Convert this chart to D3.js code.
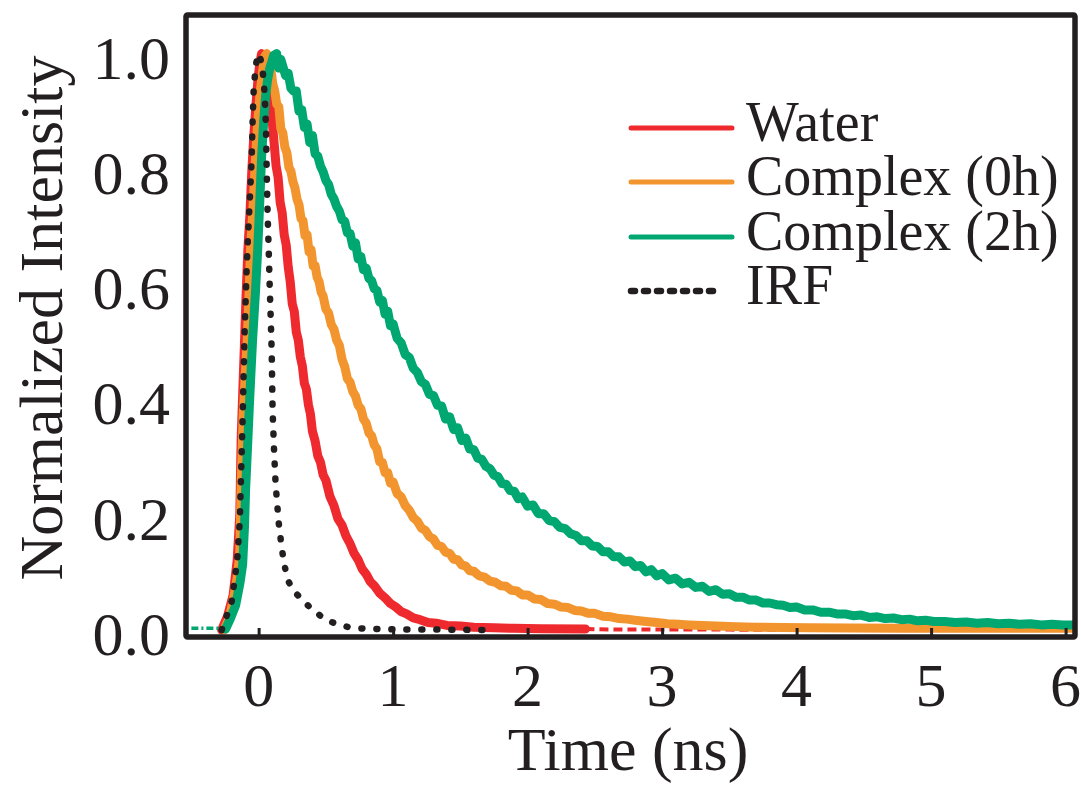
<!DOCTYPE html>
<html><head><meta charset="utf-8">
<script src="https://cdn.jsdelivr.net/npm/d3@7"></script>
<style>body{margin:0;background:#fff}svg{display:block}</style>
</head><body><svg id="c" width="1081" height="785"></svg>
<script>
// ---- data ----
const xTicks = [0, 1, 2, 3, 4, 5, 6];
const yTicks = [0.0, 0.2, 0.4, 0.6, 0.8, 1.0];
const seriesNames = ["Water", "Complex (0h)", "Complex (2h)", "IRF"];
const xTitle = "Time (ns)";
const yTitle = "Normalized Intensity";

const water = [[-0.275,0],[-0.23,0.025],[-0.19,0.06],[-0.16,0.12],[-0.14,0.2],[-0.13,0.33],[-0.12,0.40],[-0.105,0.50],[-0.095,0.57],[-0.08,0.66],[-0.065,0.72],[-0.05,0.80],[-0.035,0.86],[-0.02,0.91],[-0.005,0.955],[0.01,0.985],[0.022,1.0],[0.04,0.985],[0.055,0.978],[0.07,0.945],[0.085,0.925],[0.10,0.885],[0.115,0.845],[0.13,0.805],[0.145,0.785],[0.16,0.742],[0.175,0.724],[0.19,0.686],[0.205,0.668],[0.22,0.63],[0.235,0.604],[0.25,0.566],[0.265,0.553],[0.28,0.517],[0.295,0.503],[0.31,0.474],[0.325,0.458],[0.34,0.428],[0.355,0.418],[0.37,0.391],[0.385,0.375],[0.40,0.345],[0.42,0.328],[0.44,0.302],[0.46,0.291],[0.48,0.269],[0.50,0.26],[0.53,0.232],[0.56,0.216],[0.59,0.193],[0.62,0.182],[0.65,0.163],[0.68,0.15],[0.71,0.133],[0.74,0.122],[0.77,0.106],[0.80,0.097],[0.83,0.084],[0.86,0.077],[0.90,0.064],[0.94,0.056],[0.98,0.046],[1.02,0.04],[1.06,0.032],[1.10,0.028],[1.15,0.021],[1.20,0.018],[1.26,0.013],[1.32,0.012],[1.40,0.008],[1.50,0.007],[1.60,0.005],[1.75,0.004],[1.90,0.003],[2.10,0.0025],[2.43,0.002],[2.6,0.001],[3.0,0.001],[3.5,0.0008],[4.0,0.0005],[4.6,0.0005]];

const complex0h = [[-0.26,0],[-0.22,0.02],[-0.19,0.05],[-0.16,0.09],[-0.14,0.13],[-0.13,0.25],[-0.115,0.37],[-0.10,0.44],[-0.085,0.50],[-0.07,0.59],[-0.06,0.66],[-0.04,0.74],[-0.025,0.81],[-0.01,0.87],[0.01,0.93],[0.03,0.97],[0.045,0.995],[0.06,1.0],[0.075,0.985],[0.09,0.975],[0.105,0.948],[0.12,0.935],[0.135,0.912],[0.15,0.908],[0.165,0.87],[0.18,0.862],[0.195,0.838],[0.21,0.828],[0.225,0.803],[0.24,0.796],[0.255,0.778],[0.27,0.767],[0.285,0.748],[0.30,0.738],[0.315,0.714],[0.33,0.71],[0.345,0.684],[0.36,0.686],[0.375,0.656],[0.39,0.66],[0.405,0.632],[0.42,0.632],[0.435,0.612],[0.45,0.604],[0.465,0.586],[0.48,0.579],[0.50,0.557],[0.52,0.55],[0.54,0.53],[0.56,0.522],[0.58,0.503],[0.60,0.494],[0.62,0.47],[0.64,0.457],[0.66,0.436],[0.68,0.43],[0.70,0.414],[0.72,0.406],[0.74,0.39],[0.76,0.384],[0.78,0.366],[0.80,0.359],[0.82,0.342],[0.84,0.337],[0.86,0.321],[0.88,0.314],[0.90,0.292],[0.92,0.291],[0.94,0.273],[0.96,0.273],[0.98,0.255],[1.00,0.257],[1.03,0.237],[1.06,0.231],[1.09,0.216],[1.12,0.208],[1.15,0.195],[1.18,0.189],[1.21,0.177],[1.24,0.173],[1.27,0.162],[1.30,0.158],[1.33,0.147],[1.36,0.145],[1.39,0.135],[1.42,0.133],[1.45,0.123],[1.48,0.122],[1.51,0.113],[1.54,0.111],[1.57,0.103],[1.60,0.102],[1.64,0.094],[1.68,0.092],[1.72,0.085],[1.76,0.083],[1.80,0.077],[1.84,0.076],[1.88,0.069],[1.92,0.068],[1.96,0.061],[2.00,0.061],[2.05,0.054],[2.10,0.053],[2.15,0.046],[2.20,0.045],[2.25,0.04],[2.30,0.039],[2.35,0.034],[2.40,0.033],[2.45,0.029],[2.50,0.029],[2.56,0.024],[2.62,0.023],[2.68,0.02],[2.74,0.019],[2.80,0.017],[2.88,0.015],[2.96,0.013],[3.04,0.011],[3.12,0.010],[3.20,0.009],[3.30,0.008],[3.40,0.007],[3.55,0.006],[3.70,0.005],[3.90,0.0045],[4.10,0.004],[4.40,0.0035],[4.80,0.003],[5.20,0.003],[5.60,0.003],[6.07,0.003]];

const complex2h = [[-0.50,0.003],[-0.40,0.003],[-0.30,0.003],[-0.245,0.002],[-0.21,0.02],[-0.171,0.043],[-0.14,0.08],[-0.119,0.113],[-0.105,0.18],[-0.097,0.243],[-0.08,0.33],[-0.067,0.399],[-0.045,0.503],[-0.025,0.58],[-0.007,0.659],[0.008,0.74],[0.022,0.82],[0.037,0.88],[0.052,0.927],[0.067,0.955],[0.082,0.974],[0.097,0.985],[0.112,0.997],[0.134,1.0],[0.15,0.975],[0.165,0.99],[0.18,0.978],[0.20,0.962],[0.22,0.966],[0.24,0.94],[0.26,0.935],[0.28,0.935],[0.30,0.9],[0.32,0.903],[0.34,0.872],[0.36,0.878],[0.38,0.846],[0.40,0.858],[0.42,0.826],[0.44,0.822],[0.46,0.805],[0.48,0.795],[0.50,0.78],[0.52,0.773],[0.54,0.756],[0.56,0.748],[0.58,0.735],[0.60,0.727],[0.62,0.712],[0.64,0.709],[0.66,0.689],[0.68,0.688],[0.70,0.666],[0.72,0.672],[0.74,0.644],[0.76,0.648],[0.78,0.625],[0.80,0.628],[0.82,0.61],[0.84,0.606],[0.86,0.592],[0.88,0.589],[0.90,0.569],[0.92,0.572],[0.94,0.548],[0.96,0.553],[0.98,0.528],[1.00,0.531],[1.03,0.506],[1.06,0.498],[1.09,0.478],[1.12,0.473],[1.15,0.454],[1.18,0.447],[1.21,0.431],[1.24,0.426],[1.27,0.409],[1.30,0.407],[1.33,0.39],[1.36,0.389],[1.39,0.366],[1.42,0.37],[1.45,0.348],[1.48,0.351],[1.51,0.329],[1.54,0.333],[1.57,0.314],[1.60,0.313],[1.63,0.298],[1.66,0.296],[1.69,0.284],[1.72,0.28],[1.75,0.269],[1.78,0.266],[1.81,0.254],[1.84,0.253],[1.87,0.242],[1.90,0.241],[1.93,0.228],[1.96,0.231],[2.00,0.215],[2.04,0.217],[2.08,0.202],[2.12,0.202],[2.16,0.19],[2.20,0.188],[2.24,0.178],[2.28,0.176],[2.32,0.167],[2.36,0.164],[2.40,0.155],[2.44,0.155],[2.48,0.146],[2.52,0.145],[2.56,0.136],[2.60,0.136],[2.64,0.127],[2.68,0.127],[2.72,0.118],[2.76,0.12],[2.80,0.11],[2.84,0.112],[2.88,0.101],[2.92,0.105],[2.96,0.094],[3.00,0.098],[3.05,0.087],[3.10,0.09],[3.15,0.08],[3.20,0.083],[3.25,0.074],[3.30,0.076],[3.35,0.067],[3.40,0.07],[3.45,0.062],[3.50,0.063],[3.55,0.057],[3.60,0.057],[3.65,0.052],[3.70,0.052],[3.75,0.047],[3.80,0.047],[3.85,0.044],[3.90,0.043],[3.95,0.039],[4.00,0.04],[4.06,0.035],[4.12,0.035],[4.18,0.031],[4.24,0.031],[4.30,0.028],[4.36,0.028],[4.42,0.025],[4.48,0.026],[4.54,0.022],[4.60,0.023],[4.66,0.02],[4.72,0.021],[4.78,0.018],[4.84,0.019],[4.90,0.016],[4.96,0.017],[5.02,0.015],[5.10,0.015],[5.18,0.013],[5.26,0.014],[5.34,0.012],[5.42,0.013],[5.50,0.011],[5.58,0.012],[5.66,0.01],[5.74,0.011],[5.82,0.009],[5.90,0.01],[5.98,0.009],[6.07,0.009]];

const irf = [[-0.275,0],[-0.2,0.05],[-0.16,0.12],[-0.14,0.19],[-0.12,0.36],[-0.104,0.52],[-0.09,0.62],[-0.082,0.667],[-0.065,0.75],[-0.052,0.815],[-0.045,0.88],[-0.037,0.936],[-0.025,0.97],[-0.015,0.988],[0.0,1.0],[0.015,0.99],[0.03,0.97],[0.045,0.93],[0.055,0.87],[0.06,0.80],[0.067,0.72],[0.075,0.66],[0.082,0.60],[0.09,0.54],[0.097,0.485],[0.104,0.38],[0.115,0.31],[0.125,0.26],[0.134,0.23],[0.15,0.185],[0.171,0.144],[0.19,0.115],[0.216,0.087],[0.26,0.068],[0.327,0.052],[0.40,0.035],[0.506,0.017],[0.60,0.009],[0.70,0.0035],[0.85,0.002],[1.05,0.001],[1.3,0.001],[1.72,0.0]];

// ---- layout ----
const L = 186, R = 1075, T = 15, B = 637;
const colors = ["#ee2a2f", "#f3952f", "#00a771", "#231f20"];
const ink = "#231f20";
const font = "'Liberation Serif','Times New Roman',serif";

const svg = d3.select("#c");
const x = d3.scaleLinear().domain([-0.54, 6.07]).range([L, R]);
const y = d3.scaleLinear().domain([-0.012, 1.067]).range([B, T]);
const line = d3.line().x(d => x(d[0])).y(d => y(d[1]));

svg.append("defs").append("clipPath").attr("id","pc")
  .append("rect").attr("x",L).attr("y",T).attr("width",R-L).attr("height",B-T);
const g = svg.append("g").attr("clip-path","url(#pc)");

function thick(data, c) {
  g.append("path").datum(data).attr("d", line)
    .attr("fill","none").attr("stroke",c).attr("stroke-width",9)
    .attr("stroke-linejoin","round").attr("stroke-linecap","round");
}

// water: solid part + sparse dashed tail
thick(water.filter(d => d[0] <= 2.43), colors[0]);
g.append("path").datum(water.filter(d => d[0] >= 2.43)).attr("d", line)
  .attr("fill","none").attr("stroke",colors[0]).attr("stroke-width",4).attr("stroke-dasharray","9,5");

thick(complex0h, colors[1]);

g.append("path").datum(complex2h.filter(d => d[0] <= -0.245)).attr("d", line)
  .attr("fill","none").attr("stroke",colors[2]).attr("stroke-width",3.5).attr("stroke-dasharray","7,3,2,3");
thick(complex2h.filter(d => d[0] >= -0.245), colors[2]);

g.append("path").datum(irf).attr("d", line)
  .attr("fill","none").attr("stroke",colors[3]).attr("stroke-width",6.5).attr("stroke-dasharray","1,14").attr("stroke-linecap","round");

// x ticks (inward)
const xAxis = d3.axisBottom(x).tickValues(xTicks).tickSize(-9).tickFormat("");
const ax = svg.append("g").attr("transform",`translate(0,${B})`).call(xAxis);
ax.select(".domain").remove();
ax.selectAll(".tick line").attr("stroke",ink).attr("stroke-width",3);

// frame
svg.append("rect").attr("x",L).attr("y",T).attr("width",R-L).attr("height",B-T)
  .attr("fill","none").attr("stroke",ink).attr("stroke-width",5.5).attr("rx",1.5);

// tick labels
svg.append("g").selectAll("text").data(xTicks).join("text")
  .attr("x", d => x(d)).attr("y", 706).attr("text-anchor","middle")
  .attr("font-family",font).attr("font-size",62).attr("fill",ink).text(d => d3.format("d")(d));
svg.append("g").selectAll("text").data(yTicks).join("text")
  .attr("x", 170).attr("y", d => y(d) + 25).attr("text-anchor","end")
  .attr("font-family",font).attr("font-size",62).attr("fill",ink).text(d => d3.format(".1f")(d));

// axis titles
svg.append("text").attr("x", (x(0)+x(6))/2 - 34).attr("y", 770).attr("text-anchor","middle")
  .attr("font-family",font).attr("font-size",62).attr("fill",ink).text(xTitle);
svg.append("text").attr("transform","translate(62,318) rotate(-90)").attr("text-anchor","middle")
  .attr("font-family",font).attr("font-size",62).attr("fill",ink).text(yTitle);

// legend
const legY = [128, 182, 237, 291];
const leg = svg.append("g");
seriesNames.forEach((n,i) => {
  const ln = leg.append("line").attr("x1",631).attr("x2", i===3 ? 722 : 732).attr("y1",legY[i]).attr("y2",legY[i])
    .attr("stroke",colors[i]).attr("stroke-linecap","round");
  if (i===3) ln.attr("stroke-width",6.5).attr("stroke-dasharray","4,9");
  else ln.attr("stroke-width",5);
  leg.append("text").attr("x",746).attr("y",legY[i]+13).attr("font-family",font).attr("font-size",56)
    .attr("fill",ink).text(n);
});
</script></body></html>
